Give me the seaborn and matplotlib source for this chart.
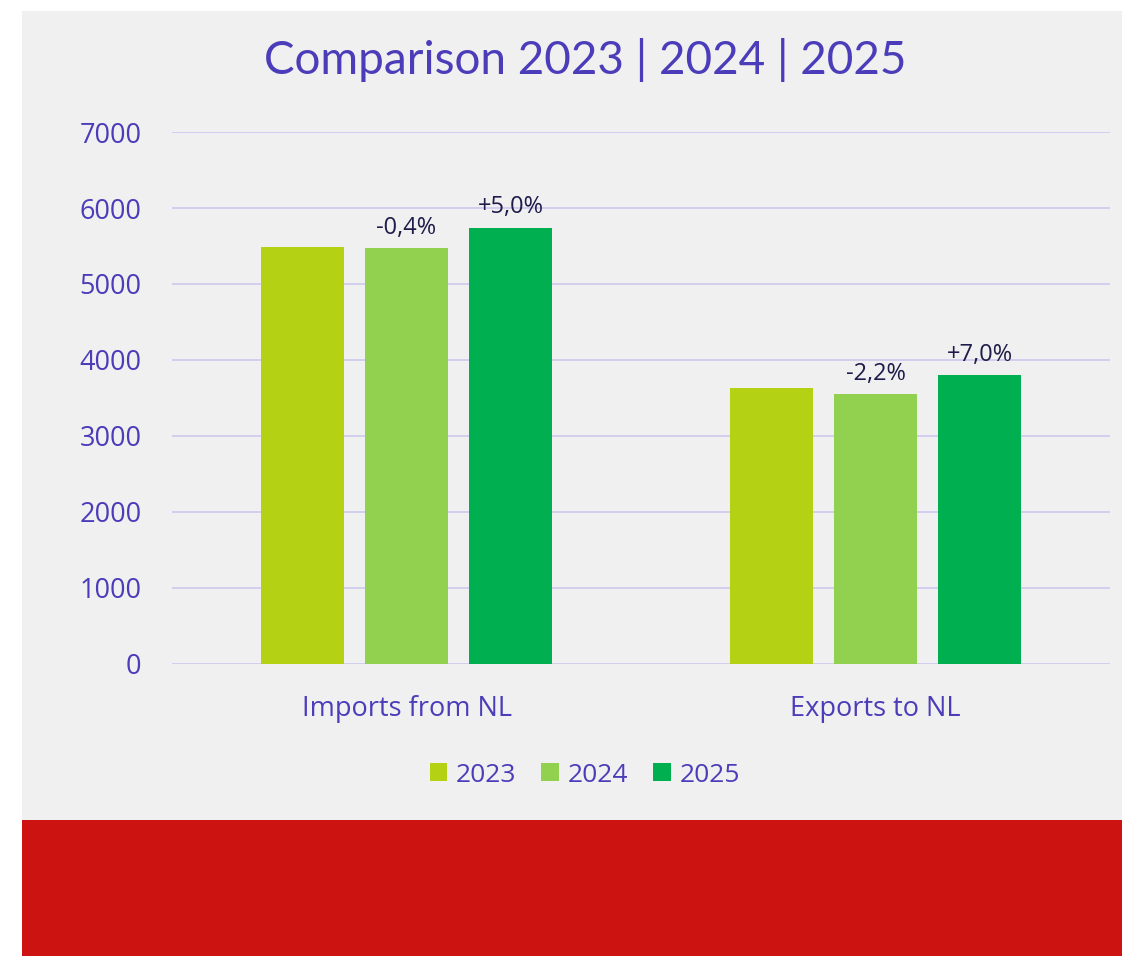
import pandas as pd
import seaborn as sns
import matplotlib.pyplot as plt
from matplotlib.patches import Rectangle

# data
categories = ["Imports from NL", "Exports to NL"]
years = ["2023", "2024", "2025"]
values_2023 = [5490, 3632]
values_2024 = [5468, 3552]
values_2025 = [5741, 3801]
labels_2024 = ["-0,4%", "-2,2%"]
labels_2025 = ["+5,0%", "+7,0%"]

df = pd.DataFrame({
    "category": categories * 3,
    "year": [y for y in years for _ in categories],
    "value": values_2023 + values_2024 + values_2025,
})

purple = "#4B3DB9"
navy = "#1E1C4A"
bar_colors = ["#B5D114", "#92D050", "#00B050"]

sns.set_style("white")
plt.rcParams["font.family"] = ["Open Sans", "DejaVu Sans"]

fig = plt.figure(figsize=(11.22, 9.56), dpi=100)
fig.patch.set_facecolor("white")

# grey panel + red band
fig.patches.append(Rectangle((22 / 1122, 136 / 956), 1100 / 1122, 809 / 956,
                             transform=fig.transFigure, facecolor="#F0F0F0", edgecolor="none", zorder=-2))
fig.patches.append(Rectangle((22 / 1122, 0), 1100 / 1122, 136 / 956,
                             transform=fig.transFigure, facecolor="#CD1212", edgecolor="none", zorder=-2))

ax = fig.add_axes([172 / 1122, 292 / 956, 938 / 1122, 532 / 956])
ax.set_facecolor("none")

sns.barplot(data=df, x="category", y="value", hue="year", palette=bar_colors,
            width=0.666, gap=0.21, saturation=1, linewidth=0, ax=ax, legend=True)

ax.set_ylim(0, 7000)
ax.set_yticks(range(0, 7001, 1000))
ax.yaxis.grid(True, color="#D3CEEE", linewidth=1.4)
ax.set_axisbelow(True)
for s in ax.spines.values():
    s.set_visible(False)
ax.tick_params(axis="y", length=0, pad=22, labelsize=19.5, labelcolor=purple)
ax.tick_params(axis="x", length=0, pad=22, labelsize=19.5, labelcolor=purple)
ax.set_xlabel("")
ax.set_ylabel("")

ax.bar_label(ax.containers[1], labels=labels_2024, padding=6, fontsize=17, color=navy)
ax.bar_label(ax.containers[2], labels=labels_2025, padding=6, fontsize=17, color=navy)

handles, lbls = ax.get_legend_handles_labels()
ax.get_legend().remove()
fig.legend(handles, lbls, loc="center", bbox_to_anchor=(585 / 1122, 181 / 956),
           ncol=3, frameon=False, fontsize=19, labelcolor=purple,
           handlelength=0.65, handleheight=0.65, handletextpad=0.35, columnspacing=0.95)

fig.text(585 / 1122, 896 / 956, "Comparison 2023 | 2024 | 2025", ha="center", va="center",
         fontsize=33, color=purple, family=["Lato", "DejaVu Sans"])

fig.savefig("out.png", dpi=100, facecolor=fig.get_facecolor())
